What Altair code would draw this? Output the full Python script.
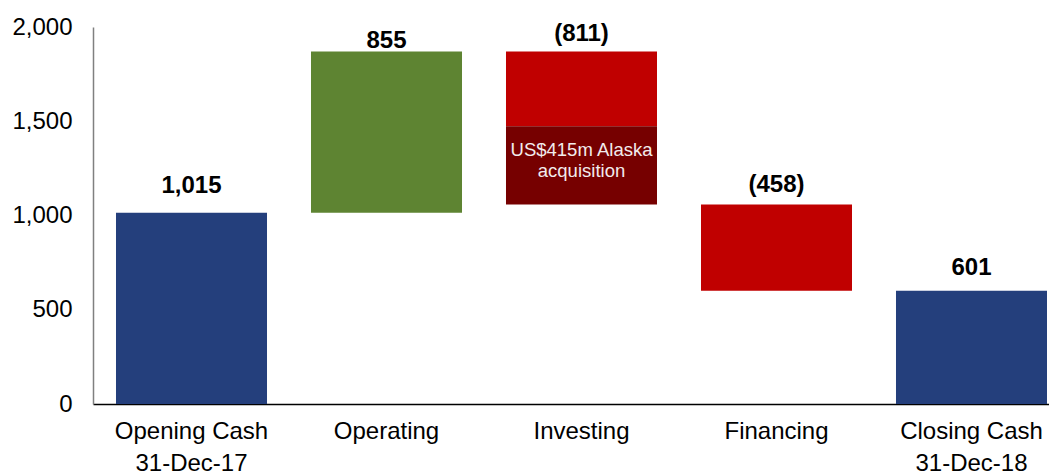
import altair as alt
import pandas as pd

# ---- data ----
categories = ["Opening Cash\n31-Dec-17", "Operating", "Investing", "Financing", "Closing Cash\n31-Dec-18"]
values = [1015, 855, -811, -458, 601]
bar_labels = ["1,015", "855", "(811)", "(458)", "601"]
is_total = [True, False, False, False, True]
alaska_value = 415
alaska_note = "US$415m Alaska\nacquisition"
y_ticks = [0, 500, 1000, 1500, 2000]

# ---- build waterfall segments ----
rows = []
label_rows = []
running = 0
for cat, v, lab, tot in zip(categories, values, bar_labels, is_total):
    if tot:
        start, end = 0, v
        running = v
        kind = "total"
    else:
        start, end = running, running + v
        running = end
        kind = "up" if v > 0 else "down"
    if cat == "Investing":
        lower = end
        mid = end + alaska_value
        rows.append({"cat": cat, "start": start, "end": mid, "kind": "down"})
        rows.append({"cat": cat, "start": mid, "end": lower, "kind": "alaska"})
    else:
        rows.append({"cat": cat, "start": start, "end": end, "kind": kind})
    label_rows.append({"cat": cat, "top": max(start, end), "label": lab})

seg = pd.DataFrame(rows)
lab = pd.DataFrame(label_rows)
inv_end = sum(values[:3])
note = pd.DataFrame([{"cat": "Investing", "mid": inv_end + alaska_value / 2, "note": alaska_note.split("\n")}])

FONT = "Liberation Sans"

x_enc = alt.X(
    "cat:N",
    sort=categories,
    title=None,
    scale=alt.Scale(paddingInner=0.2256, paddingOuter=0.0641, align=0.92),
    axis=alt.Axis(
        labelAngle=0,
        labelExpr="split(datum.label, '\\n')",
        labelFontSize=24,
        labelFont=FONT,
        labelColor="#000000",
        labelLineHeight=32,
        labelPadding=15,
        ticks=False,
        domainColor="#000000",
        domainWidth=1.5,
        grid=False,
    ),
)

y_scale = alt.Scale(domain=[0, 2000], nice=False)

bars = alt.Chart(seg).mark_bar(cornerRadius=0).encode(
    x=x_enc,
    y=alt.Y(
        "start:Q",
        scale=y_scale,
        title=None,
        axis=alt.Axis(
            values=y_ticks,
            format=",d",
            labelFontSize=24,
            labelFont=FONT,
            labelColor="#000000",
            labelPadding=21,
            ticks=False,
            grid=False,
            domainColor="#808080",
            domainWidth=1.5,
        ),
    ),
    y2="end:Q",
    color=alt.Color(
        "kind:N",
        scale=alt.Scale(
            domain=["total", "up", "down", "alaska"],
            range=["#243F7C", "#5E8432", "#C00000", "#760000"],
        ),
        legend=None,
    ),
)

# label gap above each bar (pixels), styling only
label_dy = [-20, -4, -11, -12, -16]
label_layers = []
for cat, dy in zip(categories, label_dy):
    label_layers.append(
        alt.Chart(lab)
        .transform_filter(alt.datum.cat == cat)
        .mark_text(font=FONT, fontSize=24, fontWeight="bold", color="#000000", baseline="alphabetic", dy=dy)
        .encode(x=alt.X("cat:N", sort=categories), y=alt.Y("top:Q", scale=y_scale), text="label:N")
    )

note_text = alt.Chart(note).mark_text(
    font=FONT, fontSize=18.5, color="#F2ECEC", baseline="alphabetic", lineHeight=21, dy=-9
).encode(x=alt.X("cat:N", sort=categories), y=alt.Y("mid:Q", scale=y_scale), text="note")

chart = alt.layer(bars, *label_layers, note_text).properties(
    width=956,
    height=377,
    autosize=alt.AutoSizeParams(type="none"),
    padding={"left": 85, "top": 19, "right": 0, "bottom": 67},
    background="#FFFFFF",
).configure_view(stroke=None)

chart.save("out.html", embed_options={"renderer": "svg", "actions": False})
